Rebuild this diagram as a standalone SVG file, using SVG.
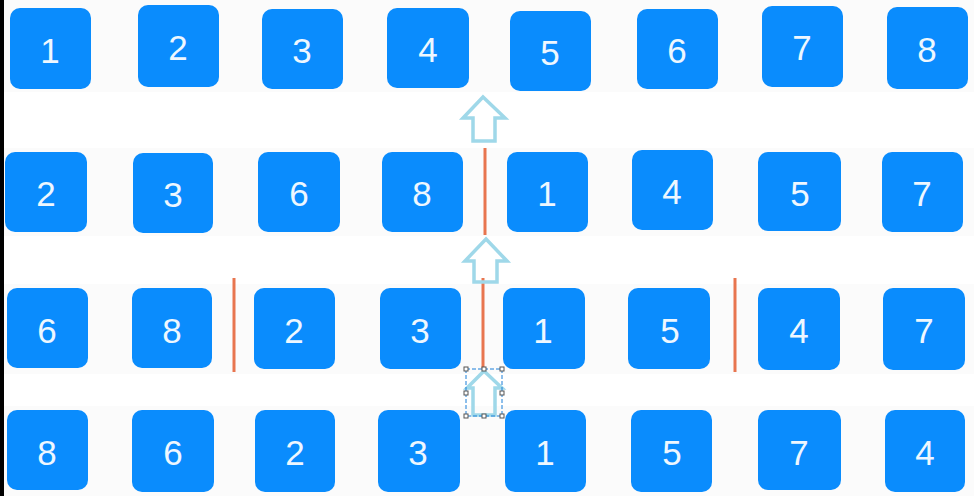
<svg xmlns="http://www.w3.org/2000/svg" width="974" height="499" viewBox="0 0 974 499">
<style>
.b{fill:#0a8cfd}
.t{fill:#eef7ff;font-family:"Liberation Sans",Arial,sans-serif;font-size:35px;text-anchor:middle;dominant-baseline:central}
.sep{stroke:#e8754f;stroke-width:3}
.ar{fill:none;stroke:#9fd8e9;stroke-width:3.5;stroke-linejoin:miter}
.h{fill:#fff;stroke:#555;stroke-width:1}
</style>
<rect width="974" height="499" fill="#fff"/>
<rect x="0" y="0" width="974" height="92" fill="#fbfbfb"/>
<rect x="0" y="148" width="974" height="88" fill="#fbfbfb"/>
<rect x="0" y="284" width="974" height="90" fill="#fbfbfb"/>
<rect x="0" y="406" width="974" height="90" fill="#fbfbfb"/>
<rect x="0" y="0" width="4" height="499" fill="#000"/>
<rect x="0" y="496" width="974" height="3" fill="#fff"/>
<g id="row1">
<g id="r1n1"><rect class="b" x="10" y="8" width="81" height="81" rx="10"/><text class="t" x="50" y="50">1</text></g>
<g id="r1n2"><rect class="b" x="138" y="5" width="81" height="82" rx="10"/><text class="t" x="178" y="47">2</text></g>
<g id="r1n3"><rect class="b" x="262" y="9" width="81" height="80" rx="10"/><text class="t" x="302" y="50">3</text></g>
<g id="r1n4"><rect class="b" x="387" y="8" width="82" height="80" rx="10"/><text class="t" x="428" y="49">4</text></g>
<g id="r1n5"><rect class="b" x="510" y="11" width="81" height="80" rx="10"/><text class="t" x="550" y="52">5</text></g>
<g id="r1n6"><rect class="b" x="637" y="9" width="81" height="80" rx="10"/><text class="t" x="677" y="50">6</text></g>
<g id="r1n7"><rect class="b" x="762" y="6" width="81" height="81" rx="10"/><text class="t" x="802" y="47">7</text></g>
<g id="r1n8"><rect class="b" x="887" y="7" width="81" height="82" rx="10"/><text class="t" x="927" y="49">8</text></g>
</g>
<g id="row2">
<g id="r2n2"><rect class="b" x="5" y="152" width="82" height="80" rx="10"/><text class="t" x="46" y="193">2</text></g>
<g id="r2n3"><rect class="b" x="133" y="153" width="80" height="80" rx="10"/><text class="t" x="173" y="194">3</text></g>
<g id="r2n6"><rect class="b" x="258" y="152" width="82" height="80" rx="10"/><text class="t" x="299" y="193">6</text></g>
<g id="r2n8"><rect class="b" x="382" y="152" width="81" height="80" rx="10"/><text class="t" x="422" y="193">8</text></g>
<g id="r2n1"><rect class="b" x="507" y="152" width="81" height="80" rx="10"/><text class="t" x="547" y="193">1</text></g>
<g id="r2n4"><rect class="b" x="632" y="150" width="81" height="80" rx="10"/><text class="t" x="672" y="191">4</text></g>
<g id="r2n5"><rect class="b" x="758" y="152" width="83" height="79" rx="10"/><text class="t" x="800" y="193">5</text></g>
<g id="r2n7"><rect class="b" x="882" y="152" width="81" height="80" rx="10"/><text class="t" x="922" y="193">7</text></g>
</g>
<g id="row3">
<g id="r3n6"><rect class="b" x="7" y="288" width="81" height="80" rx="10"/><text class="t" x="47" y="330">6</text></g>
<g id="r3n8"><rect class="b" x="132" y="288" width="80" height="80" rx="10"/><text class="t" x="172" y="330">8</text></g>
<g id="r3n2"><rect class="b" x="254" y="288" width="81" height="81" rx="10"/><text class="t" x="294" y="330">2</text></g>
<g id="r3n3"><rect class="b" x="380" y="288" width="81" height="81" rx="10"/><text class="t" x="420" y="330">3</text></g>
<g id="r3n1"><rect class="b" x="503" y="288" width="82" height="81" rx="10"/><text class="t" x="543" y="330">1</text></g>
<g id="r3n5"><rect class="b" x="628" y="288" width="82" height="81" rx="10"/><text class="t" x="670" y="330">5</text></g>
<g id="r3n4"><rect class="b" x="758" y="288" width="82" height="82" rx="10"/><text class="t" x="799" y="330">4</text></g>
<g id="r3n7"><rect class="b" x="883" y="288" width="82" height="82" rx="10"/><text class="t" x="924" y="330">7</text></g>
</g>
<g id="row4">
<g id="r4n8"><rect class="b" x="7" y="410" width="81" height="80" rx="10"/><text class="t" x="47" y="452">8</text></g>
<g id="r4n6"><rect class="b" x="132" y="410" width="82" height="82" rx="10"/><text class="t" x="173" y="452">6</text></g>
<g id="r4n2"><rect class="b" x="255" y="410" width="80" height="82" rx="10"/><text class="t" x="295" y="452">2</text></g>
<g id="r4n3"><rect class="b" x="378" y="410" width="82" height="82" rx="10"/><text class="t" x="418" y="452">3</text></g>
<g id="r4n1"><rect class="b" x="505" y="410" width="81" height="82" rx="10"/><text class="t" x="545" y="452">1</text></g>
<g id="r4n5"><rect class="b" x="631" y="410" width="81" height="82" rx="10"/><text class="t" x="672" y="452">5</text></g>
<g id="r4n7"><rect class="b" x="758" y="410" width="83" height="80" rx="10"/><text class="t" x="799" y="452">7</text></g>
<g id="r4n4"><rect class="b" x="885" y="410" width="80" height="82" rx="10"/><text class="t" x="925" y="452">4</text></g>
</g>
<g id="connectors">
<line class="sep" x1="485" y1="148" x2="485" y2="235"/>
<line class="sep" x1="234" y1="278" x2="234" y2="372"/>
<line class="sep" x1="483" y1="278" x2="483" y2="368"/>
<line class="sep" x1="735" y1="278" x2="735" y2="372"/>
<path class="ar" d="M483,97 L505,118 L495,118 L495,141 L473,141 L473,118 L463,118 Z"/>
<path class="ar" d="M486,239 L507,261 L497,261 L497,282 L474,282 L474,261 L465,261 Z"/>
<path class="ar" d="M484,371 L502,388 L495,388 L495,415 L473,415 L473,388 L467,388 Z"/>
</g>
<g id="selection">
<rect x="466" y="369" width="36" height="47" fill="none" stroke="#1a7fd8" stroke-width="1" stroke-dasharray="4,2"/>
<rect class="h" x="464" y="367" width="4" height="4"/>
<rect class="h" x="482" y="367" width="4" height="4"/>
<rect class="h" x="500" y="367" width="4" height="4"/>
<rect class="h" x="464" y="391" width="4" height="4"/>
<rect class="h" x="500" y="391" width="4" height="4"/>
<rect class="h" x="464" y="414" width="4" height="4"/>
<rect class="h" x="482" y="414" width="4" height="4"/>
<rect class="h" x="500" y="414" width="4" height="4"/>
</g>
</svg>
